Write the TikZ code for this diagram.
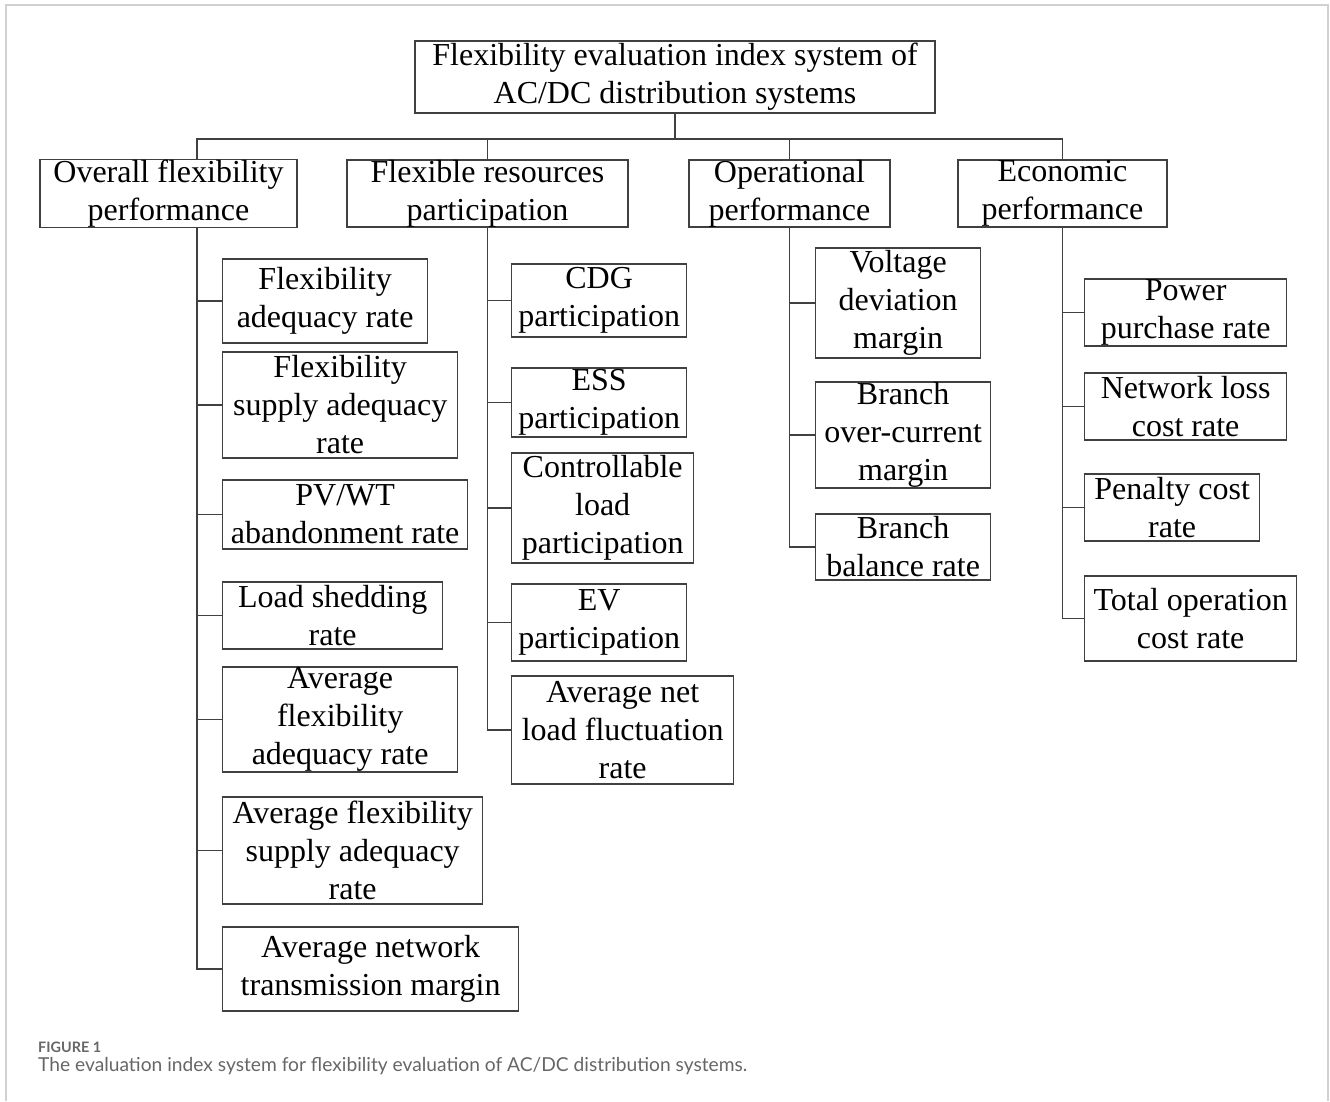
\documentclass[tikz,border=0pt]{standalone}
\usepackage{fontspec}
\setmainfont{Liberation Serif}
\newfontfamily\legende{Lato}
\begin{document}
\begin{tikzpicture}[x=1pt,y=-1pt]
\tikzset{boite/.style={draw=black!75, line width=1.3pt, inner sep=0pt, align=center, font=\fontsize{32}{38}\selectfont},
  fil/.style={draw=black!75, line width=1.4pt}}
\useasboundingbox (0,0) rectangle (1330,1101);
\draw[black!18, line width=1.5pt] (6,1101) -- (6,5) -- (1328,5) -- (1328,1101);
\node[boite, minimum width=520pt, minimum height=72pt] (R) at (675,77) {Flexibility evaluation index system of\\AC/DC distribution systems};
\node[boite, minimum width=257pt, minimum height=67pt] (A) at (168.5,193.5) {Overall flexibility\\performance};
\node[boite, minimum width=281pt, minimum height=67pt] (B) at (487.5,193.5) {Flexible resources\\participation};
\node[boite, minimum width=201pt, minimum height=67pt] (C) at (789.5,193.5) {Operational\\performance};
\node[boite, minimum width=209pt, minimum height=67pt] (D) at (1062.5,193.5) {Economic\\performance};
\node[boite, anchor=west, minimum width=205pt, minimum height=84pt] (a1) at (222,301) {Flexibility\\adequacy rate};
\node[boite, anchor=west, minimum width=235pt, minimum height=106pt] (a2) at (222,405) {Flexibility\\supply adequacy\\rate};
\node[boite, anchor=west, minimum width=245pt, minimum height=69pt] (a3) at (222,514.5) {PV/WT\\abandonment rate};
\node[boite, anchor=west, minimum width=220pt, minimum height=67pt] (a4) at (222,615.5) {Load shedding\\rate};
\node[boite, anchor=west, minimum width=235pt, minimum height=105pt] (a5) at (222,719.5) {Average\\flexibility\\adequacy rate};
\node[boite, anchor=west, minimum width=260pt, minimum height=107pt] (a6) at (222,850.5) {Average flexibility\\supply adequacy\\rate};
\node[boite, anchor=west, minimum width=296pt, minimum height=84pt] (a7) at (222,969) {Average network\\transmission margin};
\node[boite, anchor=west, minimum width=175pt, minimum height=73pt] (b1) at (511,300.5) {CDG\\participation};
\node[boite, anchor=west, minimum width=175pt, minimum height=69pt] (b2) at (511,402.5) {ESS\\participation};
\node[boite, anchor=west, minimum width=182pt, minimum height=110pt] (b3) at (511,508) {Controllable\\load\\participation};
\node[boite, anchor=west, minimum width=175pt, minimum height=77pt] (b4) at (511,622.5) {EV\\participation};
\node[boite, anchor=west, minimum width=222pt, minimum height=108pt] (b5) at (511,730) {Average net\\load fluctuation\\rate};
\node[boite, anchor=west, minimum width=165pt, minimum height=110pt] (c1) at (815,303) {Voltage\\deviation\\margin};
\node[boite, anchor=west, minimum width=175pt, minimum height=106pt] (c2) at (815,435) {Branch\\over-current\\margin};
\node[boite, anchor=west, minimum width=175pt, minimum height=66pt] (c3) at (815,547) {Branch\\balance rate};
\node[boite, anchor=west, minimum width=202pt, minimum height=67pt] (d1) at (1084,312.5) {Power\\purchase rate};
\node[boite, anchor=west, minimum width=202pt, minimum height=67pt] (d2) at (1084,406.5) {Network loss\\cost rate};
\node[boite, anchor=west, minimum width=175pt, minimum height=67pt] (d3) at (1084,507.5) {Penalty cost\\rate};
\node[boite, anchor=west, minimum width=212pt, minimum height=85pt] (d4) at (1084,618.5) {Total operation\\cost rate};
\coordinate (bus) at (675,139);
\coordinate (tA) at (197,227);
\draw[fil] (R.south) -- (bus);
\draw[fil] (tA |- A.north) |- (bus) -| (D.north);
\draw[fil] (B.north) -- (B.north |- bus);
\draw[fil] (C.north) -- (C.north |- bus);
\draw[fil] (tA) |- (a7.west);
\foreach \n in {a1,a2,a3,a4,a5,a6} \draw[fil] (\n.west) -- (\n.west -| tA);
\draw[fil] (B.south) |- (b5.west);
\foreach \n in {b1,b2,b3,b4} \draw[fil] (\n.west) -- (\n.west -| B.south);
\draw[fil] (C.south) |- (c3.west);
\foreach \n in {c1,c2} \draw[fil] (\n.west) -- (\n.west -| C.south);
\draw[fil] (D.south) |- (d4.west);
\foreach \n in {d1,d2,d3} \draw[fil] (\n.west) -- (\n.west -| D.south);
\node[anchor=base west, inner sep=0pt, text=black!60, font=\legende\bfseries\fontsize{14.4}{16}\selectfont] (fig) at (38,1052) {FIGURE 1};
\node[anchor=base west, inner sep=0pt, text=black!60, font=\legende\fontsize{19.2}{21}\selectfont] (cap) at (38,1071) {The evaluation index system for flexibility evaluation of AC/DC distribution systems.};
\end{tikzpicture}
\end{document}
